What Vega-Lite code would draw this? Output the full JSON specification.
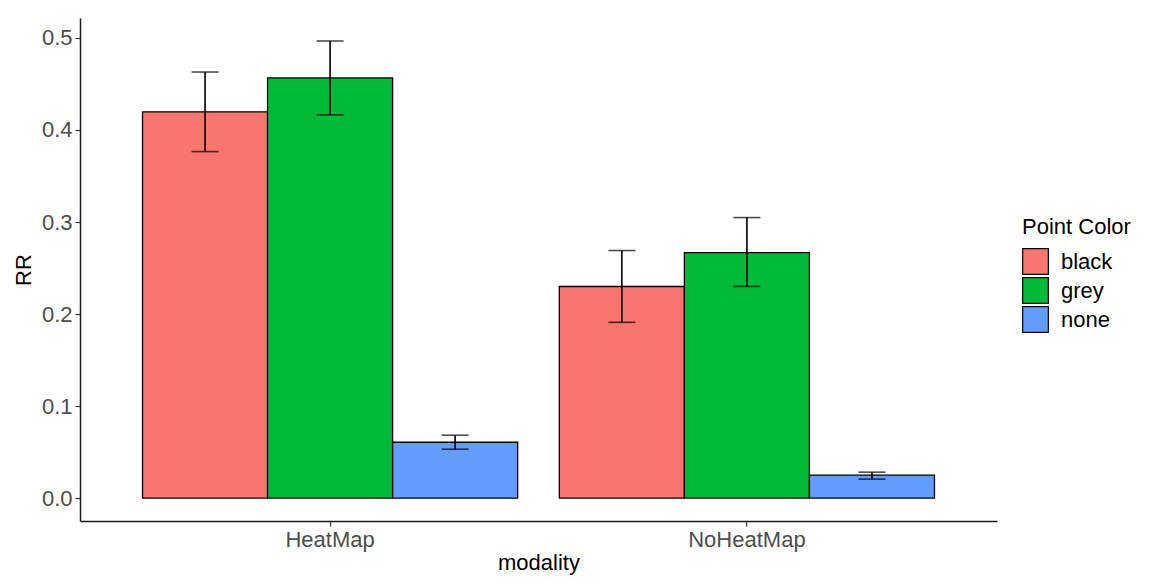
{
  "$schema": "https://vega.github.io/schema/vega-lite/v6.json",
  "width": 917,
  "height": 503,
  "autosize": {"type": "none"},
  "padding": {"left": 80, "top": 18, "right": 153, "bottom": 61},
  "background": "white",
  "config": {
    "view": {"stroke": null},
    "font": "Liberation Sans"
  },
  "data": {
    "values": [
      {"modality": "HeatMap", "color": "black", "RR": 0.4197, "lower": 0.3765, "upper": 0.4630},
      {"modality": "HeatMap", "color": "grey", "RR": 0.4566, "lower": 0.4165, "upper": 0.4967},
      {"modality": "HeatMap", "color": "none", "RR": 0.0607, "lower": 0.0531, "upper": 0.0683},
      {"modality": "NoHeatMap", "color": "black", "RR": 0.2299, "lower": 0.1910, "upper": 0.2690},
      {"modality": "NoHeatMap", "color": "grey", "RR": 0.2668, "lower": 0.2300, "upper": 0.3048},
      {"modality": "NoHeatMap", "color": "none", "RR": 0.0249, "lower": 0.0206, "upper": 0.0282}
    ]
  },
  "encoding": {
    "x": {
      "field": "modality",
      "type": "nominal",
      "scale": {"paddingInner": 0.1, "paddingOuter": 0.15},
      "axis": {
        "title": "modality",
        "labelAngle": 0,
        "labelFontSize": 22,
        "labelColor": "#4d4d4d",
        "labelPadding": 3,
        "titleFontSize": 22,
        "titleFontWeight": "normal",
        "titleColor": "black",
        "titlePadding": 2,
        "tickSize": 5,
        "tickColor": "#333333",
        "tickWidth": 1.2,
        "domainColor": "#1a1a1a",
        "domainWidth": 1.5,
        "grid": false
      }
    },
    "xOffset": {
      "field": "color",
      "type": "nominal",
      "scale": {"paddingInner": 0, "paddingOuter": 0}
    }
  },
  "layer": [
    {
      "mark": {"type": "bar", "stroke": "black", "strokeWidth": 1.3},
      "encoding": {
        "y": {
          "field": "RR",
          "type": "quantitative",
          "scale": {"domain": [-0.0249, 0.5217], "nice": false, "zero": false},
          "axis": {
            "title": "RR",
            "values": [0, 0.1, 0.2, 0.3, 0.4, 0.5],
            "format": ".1f",
            "labelFontSize": 22,
            "labelColor": "#4d4d4d",
            "labelPadding": 3,
            "titleFontSize": 22,
            "titleFontWeight": "normal",
            "titleColor": "black",
            "titlePadding": 6,
            "tickSize": 5,
            "tickColor": "#333333",
            "tickWidth": 1.2,
            "domainColor": "#1a1a1a",
            "domainWidth": 1.5,
            "grid": false
          }
        },
        "fill": {
          "field": "color",
          "type": "nominal",
          "scale": {"domain": ["black", "grey", "none"], "range": ["#F8766D", "#00BA38", "#619CFF"]},
          "legend": {
            "title": "Point Color",
            "orient": "none",
            "legendX": 942,
            "legendY": 199,
            "titleFontSize": 22,
            "titleFontWeight": "normal",
            "titleColor": "black",
            "titlePadding": 9,
            "labelFontSize": 22,
            "labelColor": "black",
            "labelOffset": 12,
            "symbolType": "square",
            "symbolSize": 660,
            "symbolStrokeColor": "black",
            "symbolStrokeWidth": 1.2,
            "symbolOpacity": 1,
            "rowPadding": -9
          }
        }
      }
    },
    {
      "mark": {"type": "rule", "color": "black", "strokeWidth": 1.6},
      "encoding": {
        "y": {"field": "lower", "type": "quantitative"},
        "y2": {"field": "upper"}
      }
    },
    {
      "mark": {"type": "tick", "color": "black", "thickness": 1.6, "size": 27, "orient": "horizontal"},
      "encoding": {
        "y": {"field": "lower", "type": "quantitative"}
      }
    },
    {
      "mark": {"type": "tick", "color": "black", "thickness": 1.6, "size": 27, "orient": "horizontal"},
      "encoding": {
        "y": {"field": "upper", "type": "quantitative"}
      }
    }
  ]
}
